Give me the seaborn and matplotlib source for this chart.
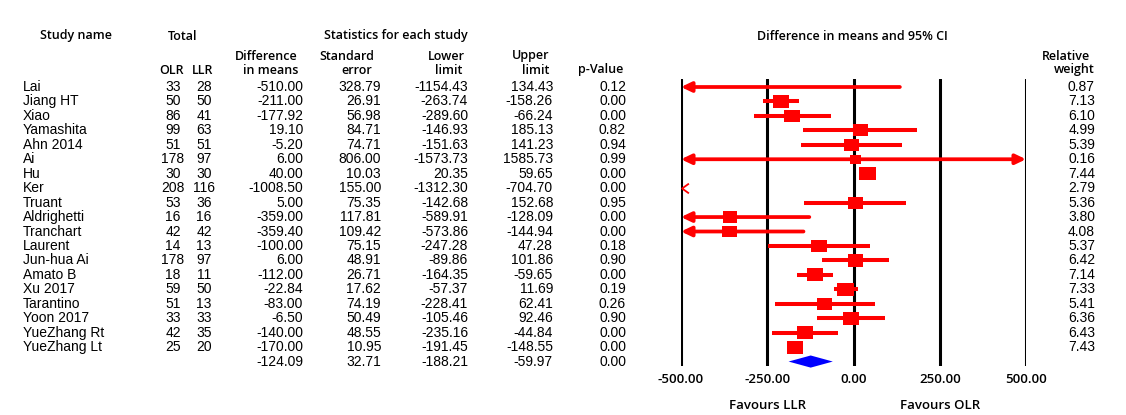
import matplotlib
matplotlib.use("Agg")
import matplotlib.pyplot as plt
import matplotlib.transforms as mtransforms
from matplotlib.path import Path
import pandas as pd
import seaborn as sns

# ---- study-level results -------------------------------------------------
studies = ["Lai", "Jiang HT", "Xiao", "Yamashita", "Ahn 2014", "Ai", "Hu", "Ker",
           "Truant", "Aldrighetti", "Tranchart", "Laurent", "Jun-hua Ai", "Amato B",
           "Xu 2017", "Tarantino", "Yoon 2017", "YueZhang Rt", "YueZhang Lt"]
n_olr = [33, 50, 86, 99, 51, 178, 30, 208, 53, 16, 42, 14, 178, 18, 59, 51, 33, 42, 25]
n_llr = [28, 50, 41, 63, 51, 97, 30, 116, 36, 16, 42, 13, 97, 11, 50, 13, 33, 35, 20]
diff = [-510.00, -211.00, -177.92, 19.10, -5.20, 6.00, 40.00, -1008.50, 5.00, -359.00,
        -359.40, -100.00, 6.00, -112.00, -22.84, -83.00, -6.50, -140.00, -170.00]
std_err = [328.79, 26.91, 56.98, 84.71, 74.71, 806.00, 10.03, 155.00, 75.35, 117.81,
           109.42, 75.15, 48.91, 26.71, 17.62, 74.19, 50.49, 48.55, 10.95]
lower = [-1154.43, -263.74, -289.60, -146.93, -151.63, -1573.73, 20.35, -1312.30, -142.68,
         -589.91, -573.86, -247.28, -89.86, -164.35, -57.37, -228.41, -105.46, -235.16, -191.45]
upper = [134.43, -158.26, -66.24, 185.13, 141.23, 1585.73, 59.65, -704.70, 152.68,
         -128.09, -144.94, 47.28, 101.86, -59.65, 11.69, 62.41, 92.46, -44.84, -148.55]
p_value = [0.12, 0.00, 0.00, 0.82, 0.94, 0.99, 0.00, 0.00, 0.95, 0.00, 0.00, 0.18,
           0.90, 0.00, 0.19, 0.26, 0.90, 0.00, 0.00]
rel_weight = [0.87, 7.13, 6.10, 4.99, 5.39, 0.16, 7.44, 2.79, 5.36, 3.80, 4.08, 5.37,
              6.42, 7.14, 7.33, 5.41, 6.36, 6.43, 7.43]

# pooled (random effects) estimate
pooled_diff = -124.09
pooled_se = 32.71
pooled_lower = -188.21
pooled_upper = -59.97
pooled_p = 0.00

axis_ticks = [-500, -250, 0, 250, 500]

# ---- styling ---------------------------------------------------------------
sns.set_theme(style="white")
plt.rcParams["font.family"] = ["Liberation Sans", "DejaVu Sans"]

RED = "#FF0000"
BLUE = "#0000FF"
HDR = dict(family=["Open Sans", "DejaVu Sans"], fontsize=9, fontweight="semibold", color="black")
BODY = dict(family=["Liberation Sans", "DejaVu Sans"], fontsize=10, color="black")

W, H = 1126, 415
fig = plt.figure(figsize=(W / 100, H / 100), dpi=100)

# full-figure canvas (pixel units) for the table text
bg = fig.add_axes([0, 0, 1, 1])
bg.set_xlim(0, W)
bg.set_ylim(H, 0)
bg.axis("off")

ROW0, STEP = 87.0, 14.45          # pixel centre of the first row and row pitch


def row_px(r):
    return ROW0 + STEP * r


n = len(studies)
pooled_row = n

# ---- column headers --------------------------------------------------------
bg.text(76, 36, "Study name", ha="center", va="center", **HDR)
bg.text(183, 36, "Total", ha="center", va="center", **HDR)
bg.text(396, 36, "Statistics for each study", ha="center", va="center", **HDR)
bg.text(852, 36, "Difference in means and 95% CI", ha="center", va="center", **HDR)

bg.text(172, 70, "OLR", ha="center", va="center", **HDR)
bg.text(203, 70, "LLR", ha="center", va="center", **HDR)
bg.text(298, 56, "Difference", ha="right", va="center", **HDR)
bg.text(298, 70, "in means", ha="right", va="center", **HDR)
bg.text(347, 56, "Standard", ha="center", va="center", **HDR)
bg.text(357, 70, "error", ha="center", va="center", **HDR)
bg.text(446, 56, "Lower", ha="center", va="center", **HDR)
bg.text(449, 70, "limit", ha="center", va="center", **HDR)
bg.text(531, 56, "Upper", ha="center", va="center", **HDR)
bg.text(536, 70, "limit", ha="center", va="center", **HDR)
bg.text(601, 70, "p-Value", ha="center", va="center", **HDR)
bg.text(1090, 56, "Relative", ha="right", va="center", **HDR)
bg.text(1095, 70, "weight", ha="right", va="center", **HDR)

# ---- table body ------------------------------------------------------------
for r in range(n):
    y = row_px(r)
    bg.text(23, y, studies[r], ha="left", va="center", **BODY)
    bg.text(173, y, f"{n_olr[r]}", ha="center", va="center", **BODY)
    bg.text(204, y, f"{n_llr[r]}", ha="center", va="center", **BODY)
    bg.text(303, y, f"{diff[r]:.2f}", ha="right", va="center", **BODY)
    bg.text(381, y, f"{std_err[r]:.2f}", ha="right", va="center", **BODY)
    bg.text(468, y, f"{lower[r]:.2f}", ha="right", va="center", **BODY)
    bg.text(553, y, f"{upper[r]:.2f}", ha="right", va="center", **BODY)
    bg.text(626, y, f"{p_value[r]:.2f}", ha="right", va="center", **BODY)
    bg.text(1095, y, f"{rel_weight[r]:.2f}", ha="right", va="center", **BODY)

y = row_px(pooled_row)
bg.text(303, y, f"{pooled_diff:.2f}", ha="right", va="center", **BODY)
bg.text(381, y, f"{pooled_se:.2f}", ha="right", va="center", **BODY)
bg.text(468, y, f"{pooled_lower:.2f}", ha="right", va="center", **BODY)
bg.text(553, y, f"{pooled_upper:.2f}", ha="right", va="center", **BODY)
bg.text(626, y, f"{pooled_p:.2f}", ha="right", va="center", **BODY)

# ---- forest panel ----------------------------------------------------------
left_px, right_px, top_px, bot_px = 681, 1026, 79, 366
ax = fig.add_axes([left_px / W, 1 - bot_px / H, (right_px - left_px) / W, (bot_px - top_px) / H])
xmin, xmax = axis_ticks[0], axis_ticks[-1]

# study squares (only those whose point estimate falls inside the scale)
inside = [i for i in range(n) if xmin <= diff[i] <= xmax]
squares = pd.DataFrame({
    "diff": [diff[i] for i in inside],
    "row": inside,
    "weight": [rel_weight[i] for i in inside],
})
box = Path([(-0.5, -0.4), (0.5, -0.4), (0.5, 0.4), (-0.5, 0.4), (-0.5, -0.4)],
           [Path.MOVETO, Path.LINETO, Path.LINETO, Path.LINETO, Path.CLOSEPOLY])
sns.scatterplot(data=squares, x="diff", y="row", size="weight", sizes=(63, 141),
                size_norm=(min(rel_weight), max(rel_weight)), marker=box, color=RED,
                linewidth=0, legend=False, ax=ax, zorder=4, clip_on=False)

# confidence intervals, with arrows where they run off the scale
chevron = Path([(0.35, 0.5), (-0.35, 0.0), (0.35, -0.5)],
               [Path.MOVETO, Path.LINETO, Path.LINETO])
for r in range(n):
    lo, hi = lower[r], upper[r]
    if hi < xmin:
        # whole interval below the scale: just a small left marker at the edge
        ax.plot([xmin + 0.012 * (xmax - xmin)], [r], marker=chevron, markersize=7,
                markerfacecolor="none", markeredgecolor=RED, markeredgewidth=1.3,
                linestyle="none", clip_on=False, zorder=4)
        continue
    a, b = max(lo, xmin), min(hi, xmax)
    if lo >= xmin and hi <= xmax:
        ax.plot([a, b], [r, r], color=RED, lw=2.9, solid_capstyle="butt",
                clip_on=False, zorder=3)
        continue
    style = ("<|-" if lo < xmin else "-") + ("|>" if hi > xmax else "")
    ax.annotate("", xy=(b, r), xytext=(a, r), annotation_clip=False,
                arrowprops=dict(arrowstyle=f"{style},head_length=0.5,head_width=0.24",
                                color=RED, lw=2.7, shrinkA=0, shrinkB=0,
                                mutation_scale=12, clip_on=False),
                zorder=3)

# pooled diamond
half_h = 0.42
ax.fill([pooled_lower, pooled_diff, pooled_upper, pooled_diff],
        [pooled_row, pooled_row - half_h, pooled_row, pooled_row + half_h],
        color=BLUE, lw=0, zorder=4, clip_on=False)

for t in axis_ticks:
    ax.axvline(t, color="black", lw=2.2, zorder=1)

ax.set_xlim(xmin, xmax)
ax.set_ylim((bot_px - ROW0) / STEP, (top_px - ROW0) / STEP)
ax.set_xticks(axis_ticks)
ax.set_xticklabels([f"{t:.2f}" for t in axis_ticks], family=["Open Sans", "DejaVu Sans"],
                   fontsize=9.5, fontweight="semibold", color="black")
ax.set_yticks([])
ax.tick_params(axis="x", length=0, pad=5)
ax.set_xlabel("")
ax.set_ylabel("")
for s in ax.spines.values():
    s.set_visible(False)
ax.patch.set_alpha(0)

# direction labels under the scale
lab_tr = mtransforms.blended_transform_factory(ax.transData, bg.transData)
ax_lab = dict(HDR, fontsize=9.5)
bg.text(-250, 405, "Favours LLR", ha="center", va="center", transform=lab_tr, **ax_lab)
bg.text(250, 405, "Favours OLR", ha="center", va="center", transform=lab_tr, **ax_lab)

fig.savefig("out.png", dpi=100)
